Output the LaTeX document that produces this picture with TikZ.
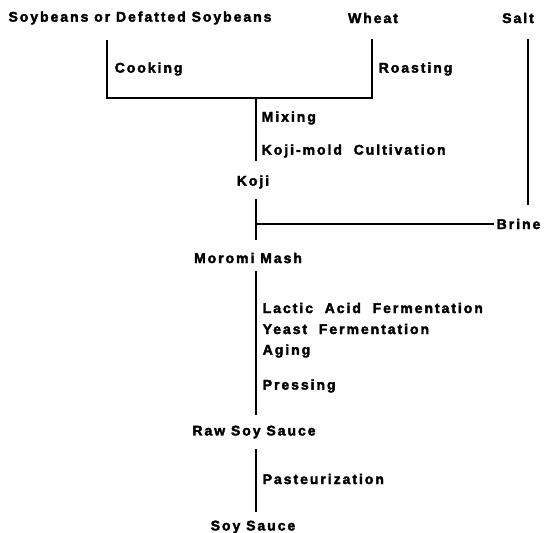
\documentclass[tikz,border=0pt]{standalone}
\usepackage{fontspec}
\setmainfont{Liberation Sans Bold}[LetterSpace=14, FakeBold=2.5]
\begin{document}
\begin{tikzpicture}[x=1pt, y=-1pt, line width=1.5pt,
    stage/.style={font=\fontsize{14}{16}\selectfont, inner sep=0pt},
    lbl/.style={stage, anchor=west}]
    \useasboundingbox (0,0) rectangle (552,533);
    % raw materials
    \node[stage] (soy) at (140,18) {Soybeans or Defatted Soybeans};
    \node[stage] (wheat) at (373,18) {Wheat};
    \node[stage] (salt) at (518,18) {Salt};
    \node[lbl] (cook) at (114,69) {Cooking};
    \node[lbl] (roast) at (378,69) {Roasting};
    % koji making
    \node[lbl] (mix) at (261,118) {Mixing};
    \node[lbl] (cult) at (261,151) {Koji-mold\ \ Cultivation};
    \node[stage] (koji) at (253,182) {Koji};
    \node[lbl] (brine) at (496,224) {Brine};
    \node[stage] (moromi) at (248,258) {Moromi Mash};
    % fermentation
    \node[lbl] (lactic) at (262,308) {Lactic\ \ Acid\ \ Fermentation};
    \node[lbl] (yeast) at (262,329) {Yeast\ \ Fermentation};
    \node[lbl] (aging) at (262,351) {Aging};
    \node[lbl] (press) at (262,386) {Pressing};
    \node[stage] (raw) at (254,432) {Raw Soy Sauce};
    \node[lbl] (pasteur) at (262,479) {Pasteurization};
    \node[stage] (sauce) at (253,527) {Soy Sauce};
    % connectors
    \coordinate (cookL) at (107,98);
    \coordinate (roastR) at (372,98);
    \coordinate (spine) at (256,98);
    \coordinate (saltB) at (528,205);
    \draw[shorten <=15pt, shorten >=15pt] (soy.south -| cookL) -- (cookL) -- (roastR) -- (wheat.south -| roastR);
    \draw[shorten >=14pt] (spine) -- (koji.north -| spine);
    \draw[shorten <=10pt, shorten >=12pt] (koji.south -| spine) -- (moromi.north -| spine);
    \draw[shorten >=2pt] (brine.west -| spine) -- (brine.west);
    \draw[shorten <=15pt] (salt.south -| saltB) -- (saltB);
    \draw[shorten <=7pt, shorten >=10pt] (moromi.south -| spine) -- (raw.north -| spine);
    \draw[shorten <=10pt, shorten >=8pt] (raw.south -| spine) -- (sauce.north -| spine);
\end{tikzpicture}
\end{document}
